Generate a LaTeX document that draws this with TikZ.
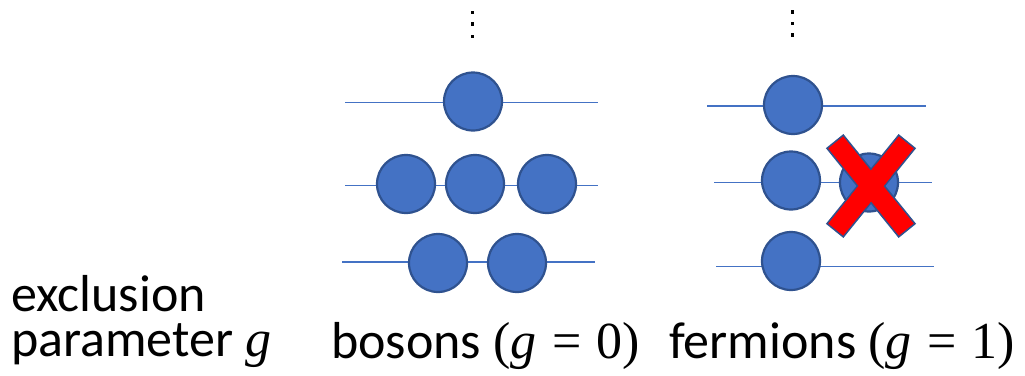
\documentclass[tikz,border=0pt]{standalone}
\usepackage{fontspec}
\setmainfont{Carlito}
\newfontfamily\mthf{Liberation Serif}
\newcommand{\gvar}{{\mthf\itshape g}}
\newcommand{\mth}[1]{{\mthf #1}}
\newcommand{\eqsp}{\hspace{0.3em}}
\begin{document}
\definecolor{ballfill}{HTML}{4472C4}
\definecolor{balledge}{HTML}{2F528F}
\definecolor{xred}{HTML}{FF0000}
\begin{tikzpicture}[x=1pt,y=-1pt,
  ball/.style={circle,draw=balledge,fill=ballfill,line width=2.2pt,minimum size=58pt,inner sep=0pt},
  level/.style={draw=ballfill,line width=1.2pt},
  vdot/.style={fill=black,minimum size=3.5pt,inner sep=0pt},
  lbl/.style={font=\fontsize{52}{44.5}\selectfont,inner sep=0pt,anchor=base west},
  xbar/.style={draw=balledge,fill=xred,line width=1.5pt}]
\useasboundingbox (0,0) rectangle (1025,375);
% boson levels
\coordinate (b1l) at (345,102.5); \coordinate (b1r) at (598,102.5);
\coordinate (b2l) at (345,185.5); \coordinate (b2r) at (598,185.5);
\coordinate (b3l) at (342,262); \coordinate (b3r) at (595,262);
\draw[level] (b1l) -- (b1r);
\draw[level] (b2l) -- (b2r);
\draw[level] (b3l) -- (b3r);
\node[ball] (bA) at (473,101.5) {};
\node[ball] (bB) at (406,184) {};
\node[ball] (bC) at (475,184) {};
\node[ball] (bD) at (547,184) {};
\node[ball] (bE) at (438,263) {};
\node[ball] (bF) at (517,263) {};
\node[vdot] (bd1) at (472.5,12.5) {};
\node[vdot] (bd2) at (472.5,24) {};
\node[vdot] (bd3) at (472.5,36.5) {};
% fermion levels
\coordinate (f1l) at (707,106); \coordinate (f1r) at (926,106);
\coordinate (f2l) at (714,182.5); \coordinate (f2r) at (932,182.5);
\coordinate (f3l) at (716,266.5); \coordinate (f3r) at (934,266.5);
\draw[level] (f1l) -- (f1r);
\draw[level] (f2l) -- (f2r);
\draw[level] (f3l) -- (f3r);
\node[ball] (fA) at (793,105) {};
\node[ball] (fB) at (791,180.5) {};
\node[ball] (fC) at (869,182.5) {};
\node[ball] (fD) at (791,261) {};
\node[vdot] (fd1) at (792.5,12) {};
\node[vdot] (fd2) at (792.5,23.5) {};
\node[vdot] (fd3) at (792.5,35) {};
% red cross
\begin{scope}[shift={(871,186)}]
\draw[xbar,rotate=51] (-57,-10.5) rectangle (57,10.5);
\draw[xbar,rotate=-51] (-57,-10.5) rectangle (57,10.5);
\fill[xred,rotate=51] (-20,-9.75) rectangle (20,9.75);
\end{scope}
% labels
\node[lbl,align=left] (t1) at (11,356) {exclusion\\parameter \gvar};
\node[lbl] (t3) at (331,358) {bosons \mth{(}\gvar\mth{\eqsp=\eqsp0)}};
\node[lbl] (t4) at (669,358) {fermions \mth{(}\gvar\mth{\eqsp=\eqsp1)}};
\end{tikzpicture}
\end{document}
